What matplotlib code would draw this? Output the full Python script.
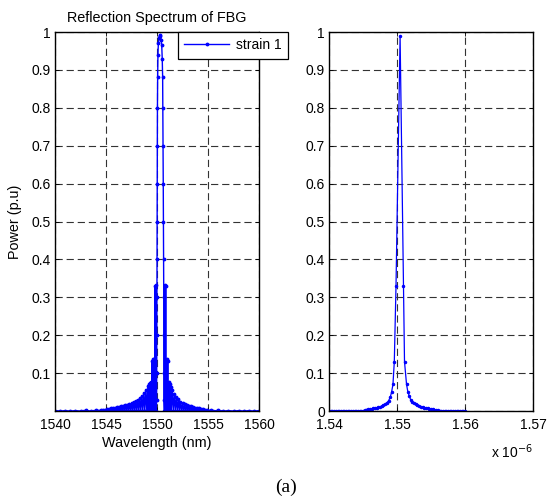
import numpy as np
import matplotlib
matplotlib.use("Agg")
import matplotlib.pyplot as plt

plt.rcParams['font.family'] = ['Liberation Sans', 'DejaVu Sans']

# ---- left panel: reflection spectrum, wavelength in nm ----
# far left tail
tail_left_nm = [1540.0, 1540.5, 1541.0, 1541.5, 1542.0, 1542.5, 1543.0, 1543.5, 1544.0, 1544.25]
tail_left_pw = [0.001, 0.0, 0.001, 0.0, 0.001, 0.0, 0.002, 0.0, 0.002, 0.0]

# left side lobes (fast oscillation)
lobes_left_nm = [1544.5, 1544.6, 1544.7, 1544.8, 1544.9, 1545.0, 1545.1, 1545.2, 1545.3, 1545.4,
                 1545.5, 1545.6, 1545.7, 1545.8, 1545.9, 1546.0, 1546.1, 1546.2, 1546.3, 1546.4,
                 1546.5, 1546.6, 1546.7, 1546.8, 1546.9, 1547.0, 1547.1, 1547.2, 1547.3, 1547.4,
                 1547.5, 1547.6, 1547.7, 1547.8, 1547.9, 1548.0, 1548.1, 1548.2, 1548.3, 1548.4,
                 1548.5, 1548.6, 1548.7, 1548.8, 1548.9, 1549.0, 1549.1, 1549.15, 1549.2, 1549.25,
                 1549.3, 1549.35, 1549.4, 1549.45, 1549.5, 1549.55, 1549.6, 1549.65, 1549.7, 1549.75,
                 1549.8, 1549.85, 1549.9, 1549.93]
lobes_left_pw = [0.003, 0.0, 0.004, 0.0, 0.004, 0.0, 0.005, 0.0, 0.006, 0.0,
                 0.007, 0.0, 0.008, 0.0, 0.009, 0.0, 0.010, 0.0, 0.011, 0.0,
                 0.012, 0.0, 0.014, 0.0, 0.016, 0.0, 0.017, 0.0, 0.019, 0.0,
                 0.021, 0.0, 0.024, 0.0, 0.027, 0.0, 0.030, 0.0, 0.034, 0.0,
                 0.040, 0.0, 0.047, 0.0, 0.056, 0.0, 0.065, 0.0, 0.072, 0.0,
                 0.074, 0.0, 0.076, 0.0, 0.132, 0.0, 0.136, 0.0, 0.136, 0.0,
                 0.330, 0.0, 0.332, 0.0]

# main lobe
main_nm = [1549.96, 1549.97, 1549.98, 1549.99, 1550.00, 1550.01, 1550.02, 1550.03, 1550.04, 1550.06,
           1550.09, 1550.13, 1550.19, 1550.26, 1550.33, 1550.40, 1550.46, 1550.51, 1550.55, 1550.57,
           1550.59, 1550.61, 1550.63, 1550.65, 1550.66, 1550.67, 1550.68, 1550.69]
main_pw = [0.03, 0.10, 0.20, 0.30, 0.40, 0.50, 0.60, 0.70, 0.80, 0.88,
           0.94, 0.97, 0.985, 0.993, 0.99, 0.98, 0.965, 0.93, 0.88, 0.80,
           0.70, 0.60, 0.50, 0.40, 0.30, 0.20, 0.10, 0.03]

# right side lobes
lobes_right_nm = [1550.72, 1550.75, 1550.8, 1550.85, 1550.9, 1550.95, 1551.0, 1551.05, 1551.1, 1551.15,
                  1551.2, 1551.25, 1551.3, 1551.35, 1551.4, 1551.5, 1551.6, 1551.7, 1551.8, 1551.9,
                  1552.0, 1552.1, 1552.2, 1552.3, 1552.4, 1552.5, 1552.6, 1552.7, 1552.8, 1552.9,
                  1553.0, 1553.1, 1553.2, 1553.3, 1553.4, 1553.5, 1553.6, 1553.7, 1553.8, 1553.9,
                  1554.0, 1554.1, 1554.2, 1554.3, 1554.4, 1554.5, 1554.6, 1554.7, 1554.8, 1554.9,
                  1555.0]
lobes_right_pw = [0.0, 0.332, 0.0, 0.330, 0.0, 0.136, 0.0, 0.132, 0.0, 0.076,
                  0.0, 0.072, 0.0, 0.064, 0.0, 0.055, 0.0, 0.045, 0.0, 0.037,
                  0.0, 0.031, 0.0, 0.025, 0.0, 0.021, 0.0, 0.018, 0.0, 0.016,
                  0.0, 0.014, 0.0, 0.012, 0.0, 0.010, 0.0, 0.009, 0.0, 0.008,
                  0.0, 0.007, 0.0, 0.006, 0.0, 0.005, 0.0, 0.004, 0.0, 0.004,
                  0.0]

# far right tail
tail_right_nm = [1555.25, 1555.5, 1556.0, 1556.5, 1557.0, 1557.5, 1558.0, 1558.5, 1559.0, 1559.5, 1560.0]
tail_right_pw = [0.003, 0.0, 0.002, 0.0, 0.001, 0.0, 0.001, 0.0, 0.001, 0.0, 0.001]

wl_left = tail_left_nm + lobes_left_nm + main_nm + lobes_right_nm + tail_right_nm
pw_left = tail_left_pw + lobes_left_pw + main_pw + lobes_right_pw + tail_right_pw

# ---- right panel: same spectrum, coarse sampling, wavelength in m ----
wl_right_nm = [1540.0, 1540.25, 1540.5, 1540.75, 1541.0, 1541.25, 1541.5, 1541.75, 1542.0, 1542.25,
               1542.5, 1542.75, 1543.0, 1543.25, 1543.5, 1543.75, 1544.0, 1544.25, 1544.5, 1544.75,
               1545.0, 1545.25, 1545.5, 1545.75, 1546.0, 1546.25, 1546.5, 1546.75, 1547.0, 1547.25,
               1547.5, 1547.75, 1548.0, 1548.25, 1548.5, 1548.75, 1549.0, 1549.2, 1549.4, 1549.6,
               1549.85, 1550.45, 1550.95, 1551.1, 1551.4, 1551.6, 1551.8, 1552.0, 1552.2, 1552.5,
               1552.75, 1553.0, 1553.25, 1553.5, 1553.75, 1554.0, 1554.25, 1554.5, 1554.75, 1555.0,
               1555.25, 1555.5, 1555.75, 1556.0, 1556.25, 1556.5, 1556.75, 1557.0, 1557.25, 1557.5,
               1557.75, 1558.0, 1558.25, 1558.5, 1558.75, 1559.0, 1559.25, 1559.5, 1559.75, 1560.0]
pw_right = [0.0, 0.0, 0.0, 0.0, 0.0, 0.0, 0.0, 0.0, 0.0, 0.0,
            0.0, 0.0, 0.0, 0.0, 0.0, 0.001, 0.001, 0.001, 0.001, 0.001,
            0.001, 0.002, 0.004, 0.005, 0.005, 0.006, 0.007, 0.008, 0.009, 0.010,
            0.011, 0.013, 0.015, 0.018, 0.022, 0.027, 0.036, 0.050, 0.070, 0.130,
            0.330, 0.990, 0.330, 0.130, 0.070, 0.050, 0.040, 0.030, 0.025, 0.021,
            0.018, 0.015, 0.013, 0.011, 0.010, 0.009, 0.008, 0.007, 0.006, 0.005,
            0.005, 0.004, 0.003, 0.002, 0.001, 0.001, 0.001, 0.0, 0.0, 0.0,
            0.0, 0.0, 0.0, 0.0, 0.0, 0.0, 0.0, 0.0, 0.0, 0.0]

left_xticks = [1540, 1545, 1550, 1555, 1560]
left_yticks = [0.1, 0.2, 0.3, 0.4, 0.5, 0.6, 0.7, 0.8, 0.9, 1.0]
left_ylabels = ['0.1', '0.2', '0.3', '0.4', '0.5', '0.6', '0.7', '0.8', '0.9', '1']
right_xticks = [1.54e-6, 1.55e-6, 1.56e-6, 1.57e-6]
right_xlabels = ['1.54', '1.55', '1.56', '1.57']
right_yticks = [0, 0.1, 0.2, 0.3, 0.4, 0.5, 0.6, 0.7, 0.8, 0.9, 1.0]
right_ylabels = ['0', '0.1', '0.2', '0.3', '0.4', '0.5', '0.6', '0.7', '0.8', '0.9', '1']

blue = '#0000ff'
fs = 10

fig = plt.figure(figsize=(5.48, 5.01), dpi=100)
ax1 = fig.add_axes([0.1004, 0.1796, 0.3723, 0.7565])
ax2 = fig.add_axes([0.6004, 0.1796, 0.3723, 0.7565])


def style_axes(ax):
    ax.grid(True, color='0.2', linestyle=(0, (6.5, 3.5)), linewidth=0.8)
    ax.set_axisbelow(True)
    ax.tick_params(direction='in', top=True, right=True, length=3, width=0.6,
                   labelsize=fs)
    ax.tick_params(axis='x', pad=5)
    ax.tick_params(axis='y', pad=3)
    for s in ax.spines.values():
        s.set_linewidth(1.0)
        s.set_color('black')


ax1.plot(wl_left, pw_left, '.-', color=blue, linewidth=1.0, markersize=3.5, label='strain 1')
ax1.set_xlim(1540, 1560)
ax1.set_ylim(0, 1)
ax1.set_xticks(left_xticks)
ax1.set_xticklabels([str(t) for t in left_xticks])
ax1.set_yticks(left_yticks)
ax1.set_yticklabels(left_ylabels)
style_axes(ax1)
ax1.set_title('Reflection Spectrum of FBG', fontsize=10.4, pad=7)
ax1.set_xlabel('Wavelength (nm)', fontsize=10.4, labelpad=3)
ax1.set_ylabel('Power (p.u)', fontsize=10.4, labelpad=7)
leg = ax1.legend(loc='upper left', bbox_to_anchor=(0.603, 1.0), borderaxespad=0,
                 fancybox=False, edgecolor='black', framealpha=1, fontsize=10,
                 handlelength=3.2, handletextpad=0.5, borderpad=0.45)
leg.get_frame().set_linewidth(0.9)
leg.set_zorder(10)

ax2.plot(np.array(wl_right_nm) * 1e-9, pw_right, '.-', color=blue, linewidth=0.9, markersize=3)
ax2.set_xlim(1.54e-6, 1.57e-6)
ax2.set_ylim(0, 1)
ax2.set_xticks(right_xticks)
ax2.set_xticklabels(right_xlabels)
ax2.set_yticks(right_yticks)
ax2.set_yticklabels(right_ylabels)
style_axes(ax2)
ax2.text(1.0, -0.108, r'x 10$^{-6}$', transform=ax2.transAxes, ha='right', va='center',
         fontsize=fs)

fig.text(0.521, 0.028, '(a)', family='Liberation Serif', fontsize=14, ha='center', va='center')

fig.savefig('out.png', dpi=100)
